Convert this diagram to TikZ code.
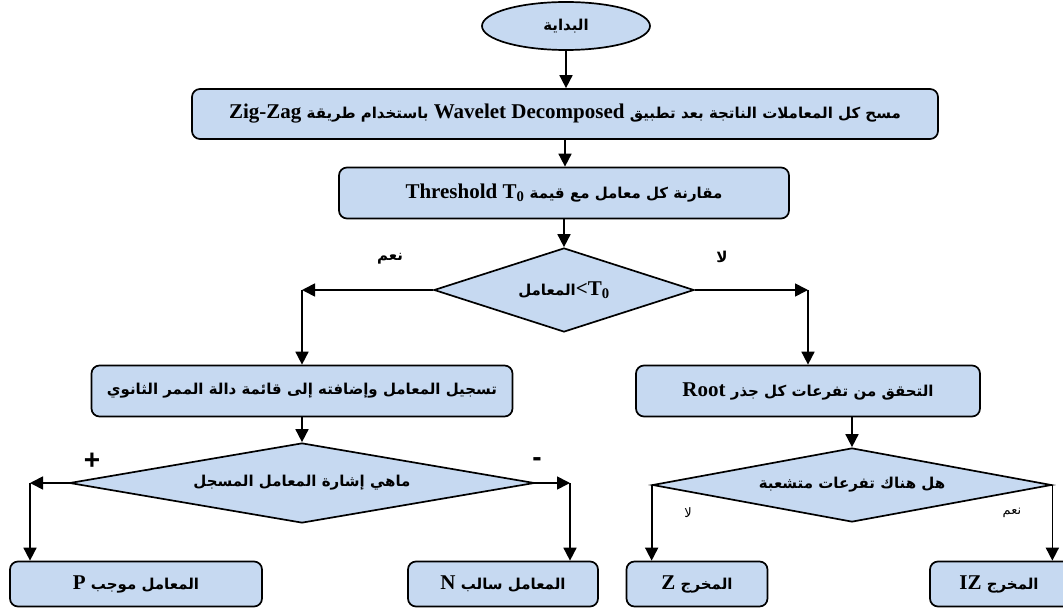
\documentclass[tikz,border=0pt]{standalone}
\usepackage{fontspec}
\setmainfont{Liberation Serif}
\newfontfamily\arabicfont[Script=Arabic]{DejaVu Sans}
\newfontfamily\signfont{Liberation Sans}
\TeXXeTstate=1
\usetikzlibrary{shapes.geometric,arrows.meta}
\definecolor{boxblue}{RGB}{198,217,241}
% Arabic run in bold, at its own size
\newcommand{\ar}[1]{{\arabicfont\bfseries\fontsize{15}{17}\selectfont #1}}
\tikzset{
  stepbox/.style={draw, line width=1.7pt, fill=boxblue, rounded corners=8pt,
    inner sep=0pt, font=\bfseries\fontsize{21}{23}\selectfont},
  decision/.style={draw, line width=1.7pt, fill=boxblue, diamond, aspect=4,
    inner sep=0pt, font=\bfseries\fontsize{21}{23}\selectfont},
  terminal/.style={draw, line width=1.7pt, fill=boxblue, ellipse, inner sep=0pt},
  arr/.style={line width=1.7pt, -{Triangle[length=13pt,width=13pt]}},
  lbl/.style={inner sep=0pt}
}
\begin{document}
\begin{tikzpicture}[x=1pt,y=-1pt]
\clip (0,0) rectangle (1063,609);
\fill[white] (0,0) rectangle (1063,609);

\node[terminal, minimum width=168pt, minimum height=48pt] (start) at (566,26)
  {\beginR\ar{البداية}\endR};

\node[stepbox, minimum width=746pt, minimum height=50pt] (b1) at (565,114)
  {\beginR\ar{مسح كل المعاملات الناتجة بعد تطبيق} \beginL Wavelet Decomposed\endL{} \ar{باستخدام طريقة} \beginL Zig-Zag\endL\endR};

\node[stepbox, minimum width=450pt, minimum height=51pt] (b2) at (564,193)
  {\beginR\ar{مقارنة كل معامل مع قيمة} \beginL Threshold T\textsubscript{0}\endL\endR};

\node[decision, minimum width=260pt, minimum height=84pt] (d1) at (564,290)
  {\ar{\beginR المعامل\endR}<T\textsubscript{0}};

\node[stepbox, minimum width=421pt, minimum height=51pt] (b3) at (302,391)
  {\beginR\ar{تسجيل المعامل وإضافته إلى قائمة دالة الممر الثانوي}\endR};

\node[stepbox, minimum width=344pt, minimum height=51pt] (b4) at (808,391)
  {\beginR\ar{التحقق من تفرعات كل جذر} \beginL Root\endL\endR};

\node[decision, minimum width=465pt, minimum height=80pt] (d2) at (302,483)
  {\beginR\ar{ماهي إشارة المعامل المسجل}\endR};

\node[decision, minimum width=399pt, minimum height=74pt] (d3) at (852,485)
  {\beginR\ar{هل هناك تفرعات متشعبة}\endR};

\node[stepbox, minimum width=252pt, minimum height=45pt] (bP) at (136,584)
  {\beginR\ar{المعامل موجب} \beginL P\endL\endR};
\node[stepbox, minimum width=190pt, minimum height=45pt] (bN) at (503,584)
  {\beginR\ar{المعامل سالب} \beginL N\endL\endR};
\node[stepbox, minimum width=141pt, minimum height=45pt] (bZ) at (697,584)
  {\beginR\ar{المخرج} \beginL Z\endL\endR};
\node[stepbox, minimum width=150pt, minimum height=45pt] (bIZ) at (1005,584)
  {\hspace*{-12pt}\beginR\ar{المخرج} \beginL IZ\endL\endR};

% connectors
\draw[arr] (start.south) -- (start.south |- b1.north);
\draw[arr] (b1.south) -- (b1.south |- b2.north);
\draw[arr] (b2.south) -- (d1.north);

\coordinate (yesL) at (302,290);
\coordinate (noR) at (808,290);
\draw[arr] (d1.west) -- (yesL);
\draw[arr] (yesL) -- (b3.north);
\draw[arr] (d1.east) -- (noR);
\draw[arr] (noR) -- (b4.north);

\draw[arr] (b3.south) -- (d2.north);
\coordinate (plusL) at (30,483);
\coordinate (minusR) at (570,483);
\draw[arr] (d2.west) -- (plusL);
\draw[arr] (plusL) -- (plusL |- bP.north);
\draw[arr] (d2.east) -- (minusR);
\draw[arr] (minusR) -- (minusR |- bN.north);

\draw[arr] (d3.north |- b4.south) -- (d3.north);
\draw[arr] (d3.west) -- (d3.west |- bZ.north);
\draw[arr] (d3.east) -- (d3.east |- bIZ.north);

% branch labels
\node[lbl] (yes1) at (390,259) {\beginR\ar{نعم}\endR};
\node[lbl] (no1) at (722,257) {\beginR\ar{لا}\endR};
\node[lbl, font=\signfont\bfseries\fontsize{28}{30}\selectfont] (pos) at (92,461) {+};
\node[lbl, font=\signfont\bfseries\fontsize{28}{30}\selectfont] (neg) at (537,462) {-};
\node[lbl, font=\fontsize{13}{15}\selectfont] (no2) at (688,513) {\beginR{\arabicfont لا}\endR};
\node[lbl, font=\fontsize{13}{15}\selectfont] (yes2) at (1012,513) {\beginR{\arabicfont نعم}\endR};
\end{tikzpicture}
\end{document}
